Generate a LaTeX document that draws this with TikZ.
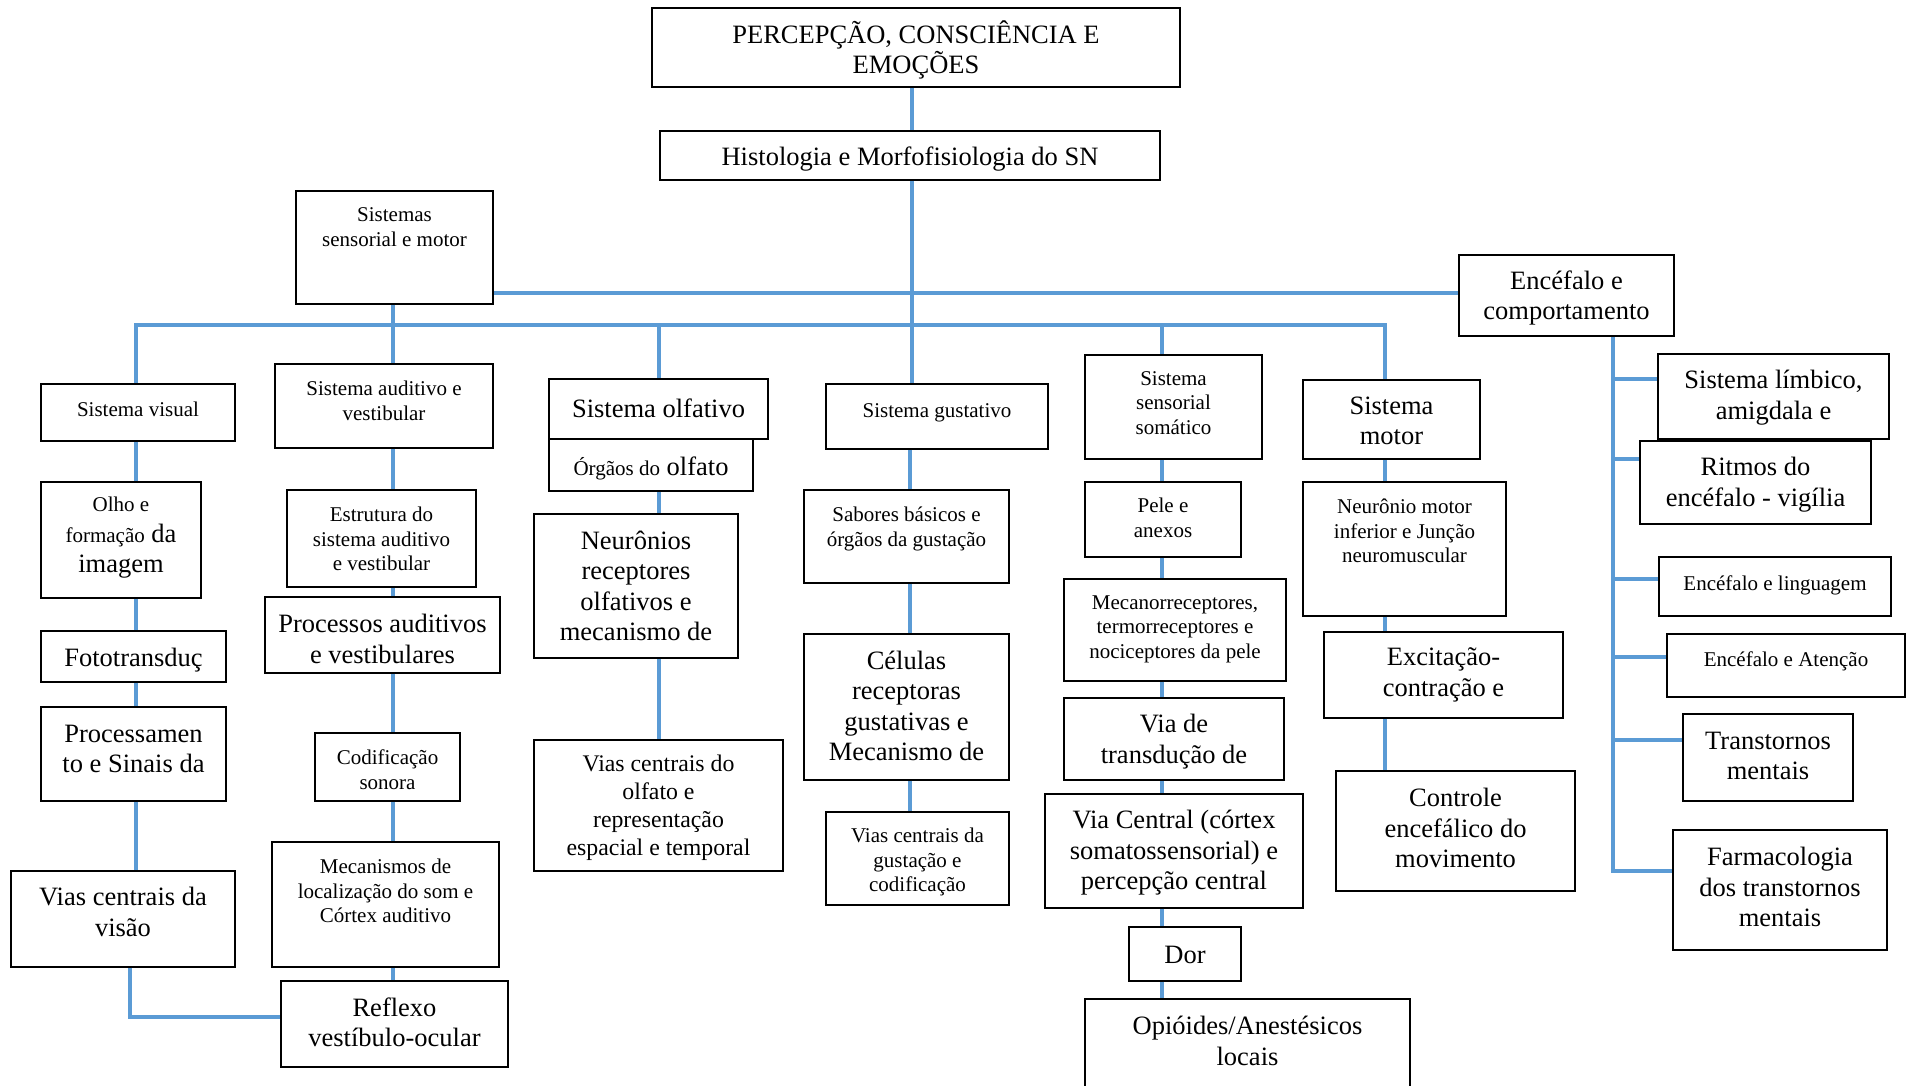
\documentclass[tikz,border=0pt]{standalone}
\usepackage{fontspec}
\setmainfont{Liberation Serif}
\usetikzlibrary{calc}

% text sizes used in the chart
\newcommand\szS{\fontsize{21}{24.6}\selectfont}
\newcommand\szM{\fontsize{23.8}{27.8}\selectfont}
\newcommand\szL{\fontsize{26.5}{30.5}\selectfont}

\definecolor{linkblue}{HTML}{5B9BD5}

\tikzset{
  box/.style={draw=black, line width=1.8pt, inner sep=0pt},
  txt/.style={align=center, inner sep=0pt, text=black, yshift=-3.5pt,
    execute at begin node=\strut, execute at end node=\strut},
  tS/.style={txt, font=\szS},
  tM/.style={txt, font=\szM},
  tL/.style={txt, font=\szL},
  link/.style={draw=linkblue, line width=3.4pt},
}

% \bx{name}{x1}{y1}{x2}{y2}{text centre y}{text style}{text}
\newcommand\bx[8]{%
  \node[box, minimum width={(#4-#2)*1pt}, minimum height={(#5-#3)*1pt}]
    (#1) at ({(#2+#4)/2},{(#3+#5)/2}) {};
  \node[#7] (#1-t) at ({(#2+#4)/2},{#6}) {#8};}

\begin{document}
\begin{tikzpicture}[x=1pt,y=-1pt]
\useasboundingbox[fill=white] (0,0) rectangle (1910,1085);

% ---- boxes ----
\bx{title}{652}{8}{1180}{87}{48}{tL}{PERCEPÇÃO, CONSCIÊNCIA E\\EMOÇÕES}
\bx{hist}{660}{131}{1160}{180}{156}{tL}{Histologia e Morfofisiologia do SN}
\bx{sism}{296}{191}{493}{304}{227}{tS}{Sistemas\\sensorial e motor}
\bx{enc}{1459}{255}{1674}{336}{296}{tL}{Encéfalo e\\comportamento}

% visual column
\bx{visual}{41}{384}{235}{441}{408}{tS}{Sistema visual}
\bx{olho}{41}{482}{201}{598}{536}{tL}{{\szS Olho e}\\{\szS formação} da\\imagem}
\bx{foto}{41}{631}{226}{682}{657}{tL}{Fototransduç}
\bx{proc}{41}{707}{226}{801}{750}{tL}{Processamen\\to e Sinais da}
\bx{vvisao}{11}{871}{235}{967}{913}{tL}{Vias centrais da\\visão}

% auditory column
\bx{aud}{275}{364}{493}{448}{401}{tS}{Sistema auditivo e\\vestibular}
\bx{estr}{287}{490}{476}{587}{539}{tS}{Estrutura do\\sistema auditivo\\e vestibular}
\bx{procaud}{265}{597}{500}{673}{640}{tL}{Processos auditivos\\e vestibulares}
\bx{cod}{315}{733}{460}{801}{770}{tS}{Codificação\\sonora}
\bx{mec}{272}{842}{499}{967}{891}{tS}{Mecanismos de\\localização do som e\\Córtex auditivo}
\bx{reflexo}{281}{981}{508}{1067}{1023}{tL}{Reflexo\\vestíbulo-ocular}

% olfactory column
\bx{olf}{549}{379}{768}{439}{408}{tL}{Sistema olfativo}
\bx{org}{549}{439}{753}{491}{466}{tL}{{\szS Órgãos do} olfato}
\bx{neur}{534}{514}{738}{658}{587}{tL}{Neurônios\\receptores\\olfativos e\\mecanismo de}
\bx{vcolf}{534}{740}{783}{871}{806}{tM}{Vias centrais do\\olfato e\\representação\\espacial e temporal}

% gustatory column
\bx{gust}{826}{384}{1048}{449}{409}{tS}{Sistema gustativo}
\bx{sab}{804}{490}{1009}{583}{527}{tS}{Sabores básicos e\\órgãos da gustação}
\bx{cel}{804}{634}{1009}{780}{707}{tL}{Células\\receptoras\\gustativas e\\Mecanismo de}
\bx{vcgust}{826}{812}{1009}{905}{860}{tS}{Vias centrais da\\gustação e\\codificação}

% somatosensory column
\bx{som}{1085}{355}{1262}{459}{403}{tS}{Sistema\\sensorial\\somático}
\bx{pele}{1085}{482}{1241}{557}{518}{tS}{Pele e\\anexos}
\bx{mecano}{1064}{579}{1286}{681}{627}{tS}{Mecanorreceptores,\\termorreceptores e\\nociceptores da pele}
\bx{transd}{1064}{698}{1284}{780}{740}{tL}{Via de\\transdução de}
\bx{vcentral}{1045}{794}{1303}{908}{851}{tL}{Via Central (córtex\\somatossensorial) e\\percepção central}
\bx{dor}{1129}{927}{1241}{981}{954}{tL}{Dor}
\bx{opi}{1085}{999}{1410}{1100}{1042}{tL}{Opióides/Anestésicos\\locais}

% motor column
\bx{motor}{1303}{380}{1480}{459}{422}{tL}{Sistema\\motor}
\bx{nmotor}{1303}{482}{1506}{616}{531}{tS}{Neurônio motor\\inferior e Junção\\neuromuscular}
\bx{excit}{1324}{632}{1563}{718}{673}{tL}{Excitação-\\contração e}
\bx{controle}{1336}{771}{1575}{891}{829}{tL}{Controle\\encefálico do\\movimento}

% brain and behaviour branch
\bx{limb}{1658}{354}{1889}{439}{396}{tL}{Sistema límbico,\\amigdala e}
\bx{ritmos}{1640}{441}{1871}{524}{483}{tL}{Ritmos do\\encéfalo - vigília}
\bx{ling}{1659}{557}{1891}{616}{582}{tS}{Encéfalo e linguagem}
\bx{aten}{1667}{634}{1905}{697}{658}{tS}{Encéfalo e Atenção}
\bx{trans}{1683}{714}{1853}{801}{757}{tL}{Transtornos\\mentais}
\bx{farm}{1673}{830}{1887}{950}{888}{tL}{Farmacologia\\dos transtornos\\mentais}

% ---- guide coordinates for the connectors ----
\coordinate (cSp)  at (912,0);
\coordinate (cVis) at (136,0);
\coordinate (cVOR) at (130,1017);
\coordinate (cAud) at (393,0);
\coordinate (cOlf) at (659,0);
\coordinate (cGus) at (910,0);
\coordinate (cSom) at (1162,0);
\coordinate (cMot) at (1385,0);
\coordinate (cEnc) at (1613,0);
\coordinate (bar1) at (0,293);
\coordinate (bar2) at (0,325);
\coordinate (tk1) at (0,379);
\coordinate (tk2) at (0,459);
\coordinate (tk3) at (0,579);
\coordinate (tk4) at (0,657);
\coordinate (tk5) at (0,740);
\coordinate (tk6) at (0,871);

% ---- connectors ----
\draw[link] (title.south -| cSp) -- (hist.north -| cSp);
\draw[link] (hist.south -| cSp) -- (gust.north -| cSp);
\draw[link] (sism.east |- bar1) -- (enc.west |- bar1);
\draw[link] (visual.north -| cVis) |- (bar2 -| cMot) -- (motor.north -| cMot);
\draw[link] (sism.south -| cAud) -- (aud.north -| cAud);
\draw[link] (bar2 -| cOlf) -- (olf.north -| cOlf);
\draw[link] (bar2 -| cSom) -- (som.north -| cSom);

\foreach \a/\b in {visual/olho, olho/foto, foto/proc, proc/vvisao}
  \draw[link] (\a.south -| cVis) -- (\b.north -| cVis);
\draw[link] (vvisao.south -| cVOR) |- (reflexo.west |- cVOR);

\foreach \a/\b in {aud/estr, estr/procaud, procaud/cod, cod/mec, mec/reflexo}
  \draw[link] (\a.south -| cAud) -- (\b.north -| cAud);

\foreach \a/\b in {org/neur, neur/vcolf}
  \draw[link] (\a.south -| cOlf) -- (\b.north -| cOlf);

\foreach \a/\b in {gust/sab, sab/cel, cel/vcgust}
  \draw[link] (\a.south -| cGus) -- (\b.north -| cGus);

\foreach \a/\b in {som/pele, pele/mecano, mecano/transd, transd/vcentral, vcentral/dor, dor/opi}
  \draw[link] (\a.south -| cSom) -- (\b.north -| cSom);

\foreach \a/\b in {motor/nmotor, nmotor/excit, excit/controle}
  \draw[link] (\a.south -| cMot) -- (\b.north -| cMot);

\draw[link] (enc.south -| cEnc) |- (farm.west |- tk6);
\draw[link] (cEnc |- tk1) -- (limb.west |- tk1);
\draw[link] (cEnc |- tk2) -- (ritmos.west |- tk2);
\draw[link] (cEnc |- tk3) -- (ling.west |- tk3);
\draw[link] (cEnc |- tk4) -- (aten.west |- tk4);
\draw[link] (cEnc |- tk5) -- (trans.west |- tk5);
\end{tikzpicture}
\end{document}
